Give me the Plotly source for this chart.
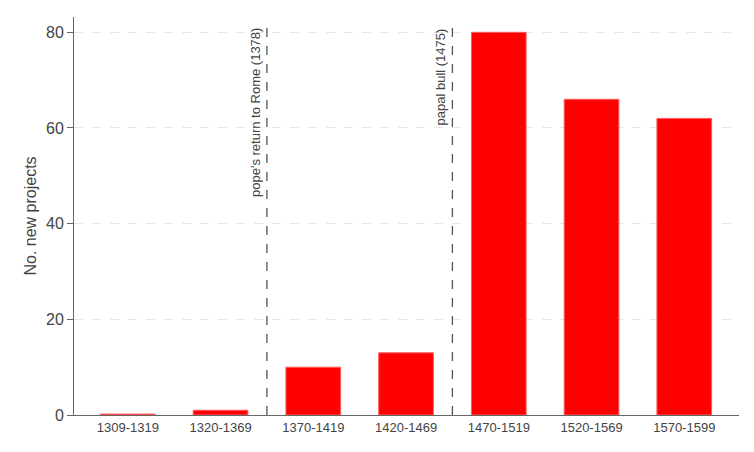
import plotly.graph_objects as go

# projects per period
periodos = ["1309-1319", "1320-1369", "1370-1419", "1420-1469",
            "1470-1519", "1520-1569", "1570-1599"]
projetos = [0.2, 1, 10, 13, 80, 66, 62]

# events (position between categories, label)
eventos_x = [1.5, 3.5]
eventos_txt = ["pope's return to Rome (1378)", "papal bull (1475)"]

fig = go.Figure()
fig.add_trace(go.Bar(x=list(range(len(periodos))), y=projetos,
                     marker=dict(color="#ff0000", line=dict(color="#ff6060", width=1)),
                     width=0.59))

for xe, txt in zip(eventos_x, eventos_txt):
    fig.add_shape(type="line", x0=xe, x1=xe, y0=0, y1=81.3, xref="x", yref="y",
                  line=dict(color="#555555", width=1.3, dash="dash"))
    fig.add_annotation(x=xe, y=81.3, xref="x", yref="y", text=txt, textangle=-90,
                       showarrow=False, xanchor="right", yanchor="top", xshift=-2,
                       font=dict(size=13, color="#444444"))

fig.update_layout(
    width=754, height=452,
    margin=dict(l=66, r=23, t=9, b=45, autoexpand=False),
    plot_bgcolor="white", paper_bgcolor="white",
    font=dict(family="Liberation Sans, Arial", color="#444444"),
    showlegend=False,
)
fig.update_xaxes(range=[-0.58, 6.59], tickvals=list(range(len(periodos))),
                 ticktext=periodos, showgrid=False, showline=True,
                 linecolor="#666666", linewidth=1, ticks="", tickfont=dict(size=13))
fig.update_yaxes(range=[0, 83.2], tickvals=[0, 20, 40, 60, 80], showline=True,
                 linecolor="#666666", linewidth=1, ticks="outside", ticklen=6,
                 tickcolor="#666666", tickfont=dict(size=16),
                 showgrid=True, gridcolor="#e6e6e6", griddash="dash", zeroline=False,
                 title=dict(text="No. new projects", font=dict(size=16), standoff=5))

fig.write_html("out.html")
